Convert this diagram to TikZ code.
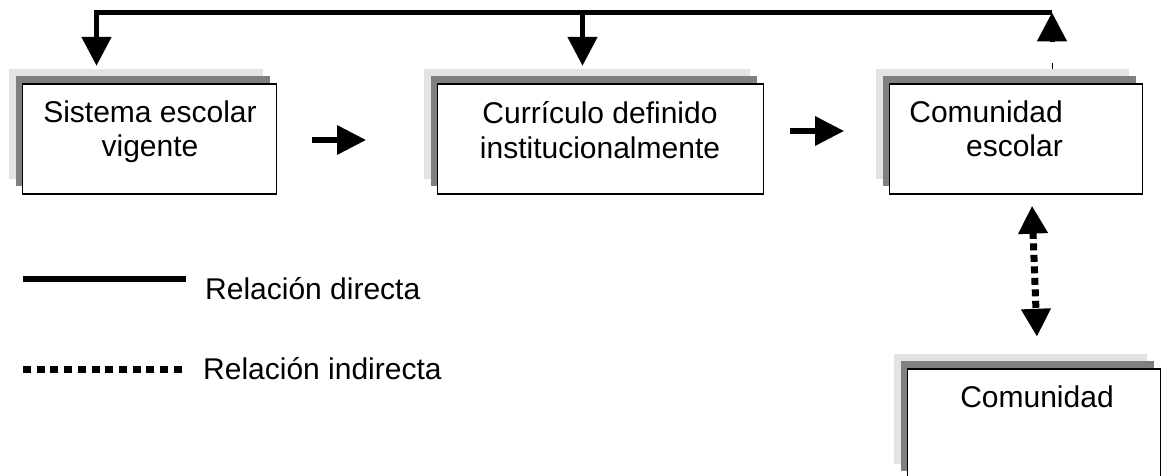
\documentclass[tikz,border=0pt]{standalone}
\usepackage{fontspec}
\setmainfont{Liberation Sans}
\usetikzlibrary{arrows.meta,calc}
\definecolor{lightg}{RGB}{227,227,230}
\definecolor{darkg}{RGB}{128,128,128}
\newcommand\mybox[4]{%
  \node[shl, minimum width=#4pt] (#1l) at ({#2-14},{#3-15}) {};
  \node[shd, minimum width=#4pt] (#1d) at ({#2-7},{#3-8}) {};
  \node[boxw, minimum width=#4pt] (#1) at (#2,#3) {};
}
\begin{document}
\begin{tikzpicture}[x=1pt,y=-1pt,
  shl/.style={rectangle,fill=lightg,draw=none,inner sep=0pt,minimum height=110pt},
  shd/.style={rectangle,fill=darkg,draw=none,inner sep=0pt,minimum height=110pt},
  boxw/.style={rectangle,fill=white,draw=black,line width=1.3pt,inner sep=0pt,minimum height=110pt},
  lbl/.style={font=\fontsize{30}{36}\selectfont,inner sep=0pt,anchor=base},
  conn/.style={line width=5pt,-{Triangle[length=29pt,width=29pt]}},
  harrow/.style={line width=6pt,-{Triangle[length=29pt,width=28pt]}},
  dotconn/.style={line width=7pt,dash pattern=on 7pt off 4.5pt,{Triangle[length=28pt,width=28pt]}-{Triangle[length=28pt,width=28pt]}},
  solidleg/.style={line width=6pt},
  dotleg/.style={line width=7pt,dash pattern=on 8pt off 5.7pt},
]
\useasboundingbox (0,0) rectangle (1162,476);
\clip (0,0) rectangle (1162,476);

% boxes
\mybox{b1}{149.5}{139}{254}
\mybox{b2}{600.5}{139}{326}
\mybox{b3}{1016}{139}{253}
\mybox{b4}{1034}{424}{253}

% texts
\node[lbl] (t1a) at (150,123) {Sistema escolar};
\node[lbl] (t1b) at (150,157) {vigente};
\node[lbl] (t2a) at (600,124) {Currículo definido};
\node[lbl] (t2b) at (600,159) {institucionalmente};
\node[lbl,anchor=base east] (t3a) at (1063,123) {Comunidad};
\node[lbl,anchor=base east] (t3b) at (1063,157) {escolar};
\node[lbl] (t4) at (1037,407) {Comunidad};

% top connectors
\coordinate (topL) at (96.5,12.5);
\coordinate (topM) at (582.5,12.5);
\coordinate (topR) at (1052,12.5);
\draw[conn] (topR) -- (topL) -- ($(b1l.north -| topL)+(0,-3)$);
\draw[conn] (topM) -- ($(b2l.north -| topM)+(0,-3)$);
\draw[conn] ($(b3l.north -| topR)+(0,-27)$) -- (topR);
\draw[line width=0.8pt] (b3l.north -| topR) -- ++(0,-6);

% horizontal arrows
\draw[harrow] ($(b1.east)+(35,1)$) -- ($(b1.east)+(89,1)$);
\draw[harrow] ($(b2.east)+(26,-8)$) -- ($(b2.east)+(80,-8)$);

% dotted double arrow
\draw[dotconn] ($(b3.south)+(16,11)$) -- ($(b4l.north)+(17,-17)$);

% legend
\coordinate (l1a) at (23,279);
\coordinate (l1b) at (186,279);
\draw[solidleg] (l1a) -- (l1b);
\node[lbl,anchor=base west] (lg1) at (205,299) {Relación directa};
\coordinate (l2a) at (23,369);
\coordinate (l2b) at (182,369);
\draw[dotleg] (l2a) -- (l2b);
\node[lbl,anchor=base west] (lg2) at (203,379) {Relación indirecta};
\end{tikzpicture}
\end{document}
